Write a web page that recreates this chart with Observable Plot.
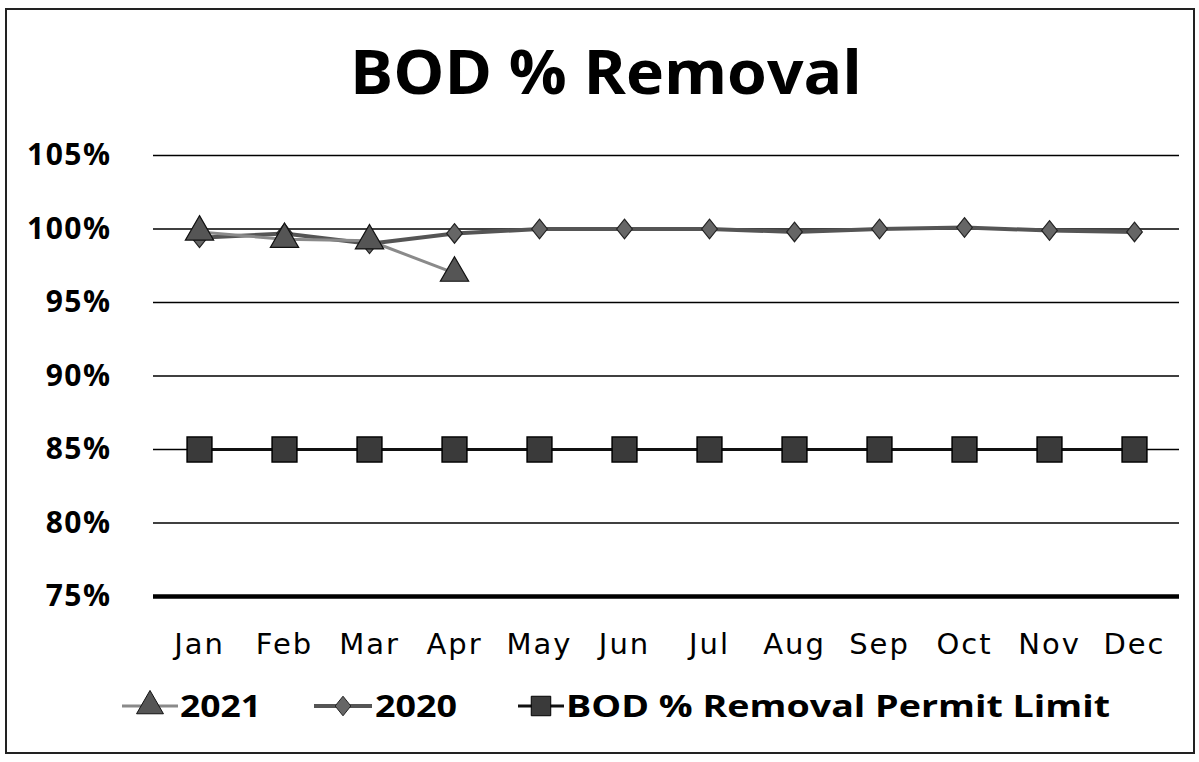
<!DOCTYPE html>
<html><head><meta charset="utf-8">
<script src="https://cdn.jsdelivr.net/npm/d3@7"></script>
<script src="https://cdn.jsdelivr.net/npm/@observablehq/plot@0.6"></script>
<style>
body{margin:0;background:#fff;}
#wrap{position:relative;width:1199px;height:762px;overflow:hidden;background:#fff;}
#frame{position:absolute;left:5px;top:8px;width:1190px;height:746px;border:2px solid #222;box-sizing:border-box;}
#title{position:absolute;left:0;top:0;}
#chart{position:absolute;left:0;top:125px;}
#legend{position:absolute;left:0;top:680px;}
#chart g[aria-label="y-axis tick label"] text{letter-spacing:1.5px;}
#chart g[aria-label="x-axis tick label"] text{letter-spacing:2px;}
</style></head>
<body><div id="wrap"><div id="frame"></div><div id="title"></div><div id="chart"></div><div id="legend"></div></div>
<script>
const months = ["Jan","Feb","Mar","Apr","May","Jun","Jul","Aug","Sep","Oct","Nov","Dec"];
const bod2021 = [99.8, 99.3, 99.2, 97.0];
const bod2020 = [99.4, 99.7, 99.0, 99.7, 100.0, 100.0, 100.0, 99.8, 100.0, 100.1, 99.9, 99.8];
const permitLimit = [85, 85, 85, 85, 85, 85, 85, 85, 85, 85, 85, 85];
const yTicks = [75, 80, 85, 90, 95, 100, 105];
const seriesNames = ["2021", "2020", "BOD % Removal Permit Limit"];
const titleText = "BOD % Removal";

const rows2021 = bod2021.map((v, i) => ({month: months[i], value: v}));
const rows2020 = bod2020.map((v, i) => ({month: months[i], value: v}));
const rowsPermit = permitLimit.map((v, i) => ({month: months[i], value: v}));

const diamondSym = {
  draw(ctx, size) {
    const hy = Math.sqrt(size / 1.6), hx = 0.8 * hy;
    ctx.moveTo(0, -hy); ctx.lineTo(hx, 0); ctx.lineTo(0, hy); ctx.lineTo(-hx, 0); ctx.closePath();
  }
};

const chart = Plot.plot({
  width: 1199, height: 555,
  marginLeft: 153, marginRight: 20, marginTop: 30, marginBottom: 84,
  x: {type: "point", domain: months, padding: 0.5, label: null},
  y: {domain: [75, 105], label: null},
  style: {background: "transparent", color: "#000", overflow: "visible"},
  marks: [
    Plot.ruleY(yTicks.filter(t => t > 75), {stroke: "#000", strokeWidth: 1.3}),
    Plot.ruleY([75], {stroke: "#000", strokeWidth: 4.5}),
    Plot.axisY({ticks: yTicks, tickSize: 0, tickPadding: 42, tickFormat: d => d + "%", fontSize: 30, fontWeight: 700, fontFamily: "Open Sans", fill: "#000"}),
    Plot.axisX({tickSize: 0, tickPadding: 37, fontSize: 29, fontFamily: "DejaVu Sans", fill: "#000"}),
    Plot.line(rowsPermit, {x: "month", y: "value", stroke: "#111", strokeWidth: 3}),
    Plot.dot(rowsPermit, {x: "month", y: "value", symbol: "square", r: 14, fill: "#3a3a3a", stroke: "#000", strokeWidth: 1.5}),
    Plot.line(rows2020, {x: "month", y: "value", stroke: "#555", strokeWidth: 4}),
    Plot.dot(rows2020, {x: "month", y: "value", symbol: diamondSym, r: 7, fill: "#666", stroke: "#222", strokeWidth: 1.2}),
    Plot.line(rows2021, {x: "month", y: "value", stroke: "#8a8a8a", strokeWidth: 3}),
    Plot.dot(rows2021, {x: "month", y: "value", symbol: "triangle", r: 10.5, fill: "#555", stroke: "#111", strokeWidth: 1.2})
  ]
});
document.getElementById("chart").appendChild(chart);

// Title
const tsvg = d3.select("#title").append("svg").attr("width", 1199).attr("height", 125);
tsvg.append("text").attr("x", 350).attr("y", 94)
  .attr("textLength", 512).attr("lengthAdjust", "spacingAndGlyphs")
  .attr("font-family", "Open Sans").attr("font-weight", 700).attr("font-size", 61)
  .attr("fill", "#000").text(titleText);

// Legend
const lsvg = d3.select("#legend").append("svg").attr("width", 1199).attr("height", 80);
const cy = 26;
const sym = (type, r) => d3.symbol(type, Math.PI * r * r)();
// 2021
lsvg.append("line").attr("x1", 122).attr("x2", 178).attr("y1", cy).attr("y2", cy).attr("stroke", "#8a8a8a").attr("stroke-width", 3);
lsvg.append("path").attr("d", sym(d3.symbolTriangle, 10)).attr("transform", `translate(150,${cy})`).attr("fill", "#555").attr("stroke", "#111");
// 2020
lsvg.append("line").attr("x1", 314).attr("x2", 372).attr("y1", cy).attr("y2", cy).attr("stroke", "#555").attr("stroke-width", 4);
lsvg.append("path").attr("d", sym(diamondSym, 7)).attr("transform", `translate(343,${cy})`).attr("fill", "#666").attr("stroke", "#222");
// Permit
lsvg.append("line").attr("x1", 518).attr("x2", 564).attr("y1", cy).attr("y2", cy).attr("stroke", "#111").attr("stroke-width", 3);
lsvg.append("path").attr("d", sym(d3.symbolSquare, 11)).attr("transform", `translate(541,${cy})`).attr("fill", "#3a3a3a").attr("stroke", "#000");
const legendText = [[seriesNames[0], 180, 81], [seriesNames[1], 375, 82], [seriesNames[2], 566, 544]];
legendText.forEach(([t, x, w]) => {
  lsvg.append("text").attr("x", x).attr("y", 37).attr("textLength", w).attr("lengthAdjust", "spacingAndGlyphs")
    .attr("font-family", "Open Sans").attr("font-weight", 700).attr("font-size", 31).attr("fill", "#000").text(t);
});
</script></body></html>
